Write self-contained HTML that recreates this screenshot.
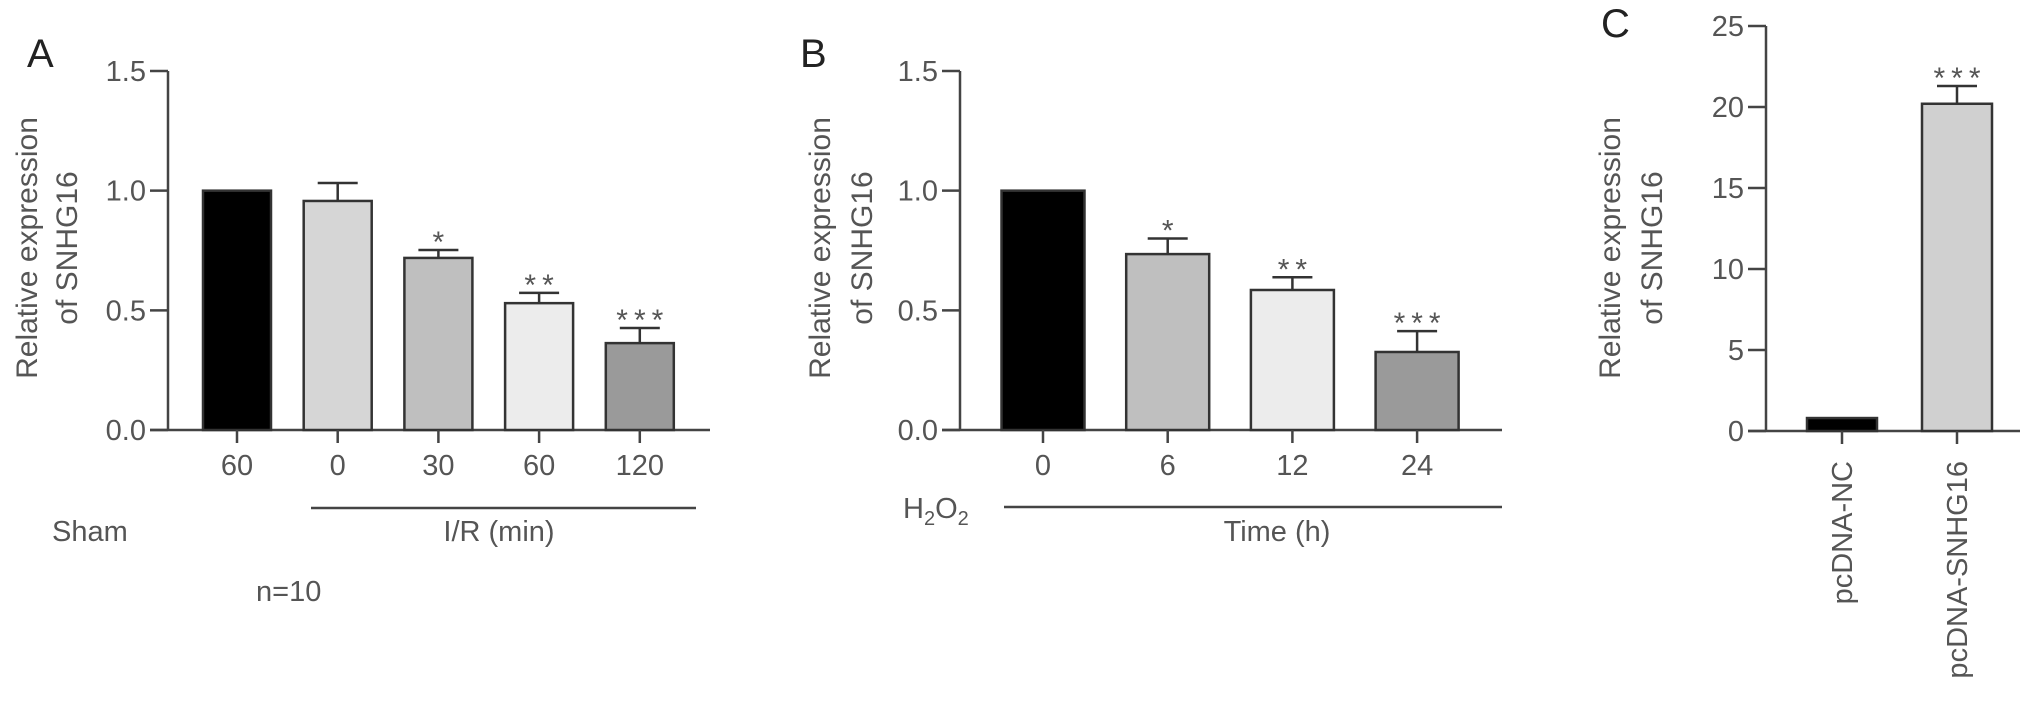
<!DOCTYPE html>
<html><head><meta charset="utf-8"><style>
body{margin:0;background:#fff}
svg{display:block;font-family:"Liberation Sans",Arial,sans-serif}
</style></head><body>
<svg id="fig" width="2032" height="719" viewBox="0 0 2032 719"></svg>
<script>
// Panel A data
const aCats = ["60","0","30","60","120"];
const aVals = [1.0,0.957,0.719,0.53,0.363];
const aErr  = [0,0.075,0.033,0.043,0.063];
const aStars = ["","","*","**","***"];
const aTicks = ["0.0","0.5","1.0","1.5"];
// Panel B data
const bCats = ["0","6","12","24"];
const bVals = [1.0,0.735,0.585,0.326];
const bErr  = [0,0.065,0.053,0.087];
const bStars = ["","*","**","***"];
const bTicks = ["0.0","0.5","1.0","1.5"];
// Panel C data
const cCats = ["pcDNA-NC","pcDNA-SNHG16"];
const cVals = [0.8,20.2];
const cErr  = [0,1.1];
const cStars = ["","***"];
const cTicks = ["0","5","10","15","20","25"];

const NS="http://www.w3.org/2000/svg";
const svg=document.getElementById('fig');
function el(tag,attrs,name,parent){
  const e=document.createElementNS(NS,tag);
  for(const k in attrs) e.setAttribute(k,attrs[k]);
  
  
  (parent||svg).appendChild(e);return e;
}
function txt(x,y,s,size,name,anchor,extra){
  const t=el('text',Object.assign({x:x,y:y,'font-size':size,fill:'#555','text-anchor':anchor||'middle'},extra||{}),name);
  t.textContent=s;return t;
}
const AX='#444';

function panel(o){
  const y0=o.y0, yTop=o.yTop, max=o.max;
  const ys=v=>y0-(v/max)*(y0-yTop);
  const xs=i=>o.x0+o.first+i*o.step;
  // y axis
  el('line',{x1:o.ax,y1:yTop,x2:o.ax,y2:y0,stroke:AX,'stroke-width':2.5},o.p+'-y-axis');
  el('line',{x1:o.ax-18,y1:y0,x2:o.axEnd,y2:y0,stroke:AX,'stroke-width':2.5},o.p+'-x-axis');
  o.ticks.forEach((t,i)=>{
    const v=parseFloat(t), y=ys(v);
    el('line',{x1:o.ax-18,y1:y,x2:o.ax,y2:y,stroke:AX,'stroke-width':2.5},o.p+'-y-tick');
    txt(o.ax-22,y+10,t,29,o.p+'-y-tick-label','end');
  });
  o.vals.forEach((v,i)=>{
    const cx=xs(i), top=ys(v);
    el('rect',{x:cx-o.bw/2,y:top,width:o.bw,height:y0-top,fill:o.fills[i],stroke:'#333','stroke-width':2.5},o.p+'-bar-'+i);
    if(o.err[i]>0){
      const ey=ys(v+o.err[i]);
      el('line',{x1:cx,y1:top,x2:cx,y2:ey,stroke:'#333','stroke-width':2.5},o.p+'-error-bar');
      el('line',{x1:cx-20,y1:ey,x2:cx+20,y2:ey,stroke:'#333','stroke-width':2.5},o.p+'-error-cap');
    }
    if(o.stars[i]){
      const ey=ys(v+o.err[i]);
      txt(cx,ey+2,o.stars[i].split('').join('\u2009'),30,o.p+'-significance','middle');
    }
    el('line',{x1:cx,y1:y0,x2:cx,y2:y0+13,stroke:AX,'stroke-width':2.5},o.p+'-x-tick');
    if(o.rot){
      txt(cx+10,y0+30,o.cats[i],29,o.p+'-x-tick-label','end',{transform:'rotate(-90 '+(cx+10)+' '+(y0+30)+')'});
    } else {
      txt(cx,y0+45,o.cats[i],29,o.p+'-x-tick-label','middle');
    }
  });
  // y title
  const ty=248;
  txt(o.t1,ty,'Relative expression',30,o.p+'-y-axis-title','middle',{transform:'rotate(-90 '+o.t1+' '+ty+')'});
  txt(o.t2,ty,'of SNHG16',30,o.p+'-y-axis-title','middle',{transform:'rotate(-90 '+o.t2+' '+ty+')'});
}

panel({p:'a',ax:168,axEnd:710,x0:168,first:69,step:100.7,bw:68,y0:430,yTop:71,max:1.5,
  vals:aVals,err:aErr,stars:aStars,cats:aCats,ticks:aTicks,
  fills:['#000','#d6d6d6','#bfbfbf','#ececec','#9a9a9a'],t1:37,t2:77});
panel({p:'b',ax:960,axEnd:1502,x0:960,first:83,step:124.7,bw:83,y0:430,yTop:71,max:1.5,
  vals:bVals,err:bErr,stars:bStars,cats:bCats,ticks:bTicks,
  fills:['#000','#bfbfbf','#ececec','#9a9a9a'],t1:830,t2:872});
panel({p:'c',ax:1766,axEnd:2020,x0:1766,first:76,step:115,bw:70,y0:431,yTop:26,max:25,
  vals:cVals,err:cErr,stars:cStars,cats:cCats,ticks:cTicks,rot:true,
  fills:['#000','#d0d0d0'],t1:1620,t2:1662});

// panel letters
txt(27,67,'A',40,'panel-label-a','start',{fill:'#222'});
txt(800,67,'B',40,'panel-label-b','start',{fill:'#222'});
txt(1601,37,'C',40,'panel-label-c','start',{fill:'#222'});
// group annotations A
txt(52,541,'Sham',29,'sham-label','start');
el('line',{x1:311,y1:508,x2:696,y2:508,stroke:AX,'stroke-width':2.5},'ir-group-line');
txt(499,541,'I/R (min)',29,'ir-label','middle');
txt(256,601,'n=10',29,'n-label','start');
// group annotations B
el('line',{x1:1004,y1:507,x2:1502,y2:507,stroke:AX,'stroke-width':2.5},'h2o2-group-line');
const h=txt(903,518,'H',29,'h2o2-label','start');
const s1=document.createElementNS(NS,'tspan');s1.setAttribute('font-size','20');s1.setAttribute('dy','7');s1.textContent='2';h.appendChild(s1);
const s2=document.createElementNS(NS,'tspan');s2.setAttribute('dy','-7');s2.textContent='O';h.appendChild(s2);
const s3=document.createElementNS(NS,'tspan');s3.setAttribute('font-size','20');s3.setAttribute('dy','7');s3.textContent='2';h.appendChild(s3);
txt(1277,541,'Time (h)',29,'time-label','middle');
</script>
</body></html>
